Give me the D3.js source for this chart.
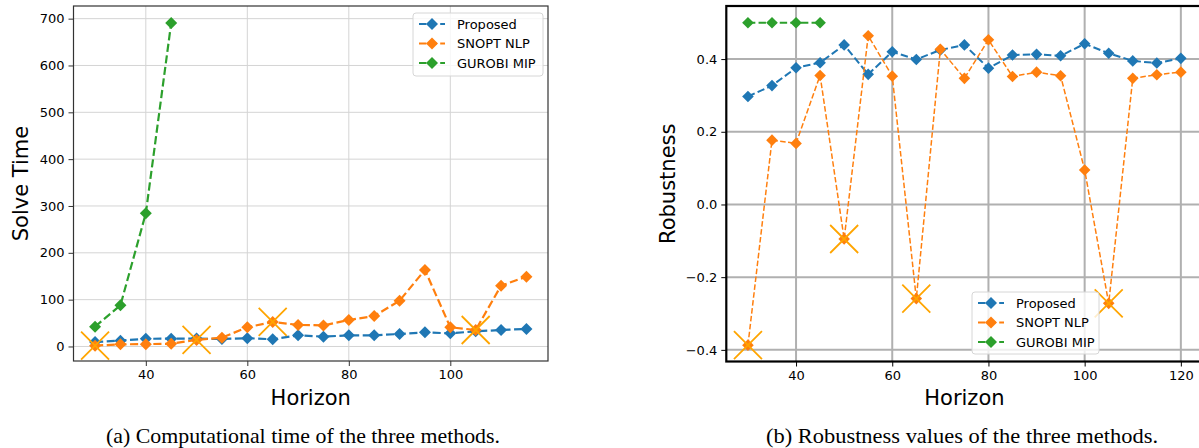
<!DOCTYPE html>
<html lang="en">
<head>
<meta charset="UTF-8">
<title>Solve time and robustness</title>
<script src="https://d3js.org/d3.v7.min.js"></script>
<style>
  body { margin: 0; background: #fff; }
  svg { display: block; }
  text { font-family: "DejaVu Sans", sans-serif; fill: #000; }
  .caption { font-family: "Liberation Serif", "Times New Roman", serif; }
</style>
</head>
<body>
<script>
// ---- data ----
var horizonsA = [30, 35, 40, 45, 50, 55, 60, 65, 70, 75, 80, 85, 90, 95, 100, 105, 110, 115];
var proposedTime = [9.6, 12.4, 16.5, 16.7, 17, 16, 17.8, 15.3, 23.8, 21, 23.8, 23.8, 26.7, 30.2, 28, 32.4, 35.2, 37.4];
var snoptTime = [1.8, 4.6, 5, 6, 14, 18.9, 41, 52.3, 46, 45, 56.6, 65, 97.8, 163.4, 41, 35.2, 129.8, 149];
var gurobiHorizons = [30, 35, 40, 45];
var gurobiTime = [42.3, 88, 284.4, 690.8];

var horizonsB = [30, 35, 40, 45, 50, 55, 60, 65, 70, 75, 80, 85, 90, 95, 100, 105, 110, 115, 120];
var proposedRob = [0.297, 0.327, 0.376, 0.390, 0.439, 0.358, 0.420, 0.399, 0.425, 0.439, 0.375, 0.411, 0.413, 0.409, 0.442, 0.416, 0.395, 0.389, 0.402];
var snoptRob = [-0.387, 0.177, 0.168, 0.355, -0.095, 0.464, 0.353, -0.259, 0.427, 0.347, 0.453, 0.352, 0.364, 0.354, 0.095, -0.272, 0.347, 0.357, 0.364];
var gurobiRob = [0.5, 0.5, 0.5, 0.5];

// horizons where SNOPT failed (big x markers)
var failHorizons = [30, 50, 65, 105];

var timeTicks = [0, 100, 200, 300, 400, 500, 600, 700];
var horizonTicksA = [40, 60, 80, 100];
var robTicks = [-0.4, -0.2, 0.0, 0.2, 0.4];
var horizonTicksB = [40, 60, 80, 100, 120];

var seriesNames = ['Proposed', 'SNOPT NLP', 'GUROBI MIP'];
var seriesColors = ['#1f77b4', '#ff7f0e', '#2ca02c'];
var failColor = '#ffa500';

var width = 1199, height = 448;

var svg = d3.select('body').append('svg')
    .attr('width', width)
    .attr('height', height);

function diamond(g, x, y, r, color) {
    g.append('path')
        .attr('d', 'M' + x + ',' + (y - r) + 'L' + (x + r) + ',' + y + 'L' + x + ',' + (y + r) + 'L' + (x - r) + ',' + y + 'Z')
        .attr('fill', color);
}

function cross(g, x, y, r, color) {
    g.append('path')
        .attr('d', 'M' + (x - r) + ',' + (y - r) + 'L' + (x + r) + ',' + (y + r) + 'M' + (x - r) + ',' + (y + r) + 'L' + (x + r) + ',' + (y - r))
        .attr('stroke', color)
        .attr('stroke-width', 1.8)
        .attr('fill', 'none');
}

// draws one panel; opts carries styling differences between the two plots
function panel(opts) {
    var x = d3.scaleLinear().domain(opts.xDomain).range(opts.xRange);
    var y = d3.scaleLinear().domain(opts.yDomain).range(opts.yRange);
    var top = opts.yRange[1], bottom = opts.yRange[0];
    var left = opts.xRange[0], right = opts.xRange[1];

    var g = svg.append('g');

    // grid
    g.append('g').selectAll('line').data(opts.xTicks).enter().append('line')
        .attr('x1', d => x(d)).attr('x2', d => x(d))
        .attr('y1', top).attr('y2', bottom)
        .attr('stroke', opts.gridColor).attr('stroke-width', opts.gridWidth);
    g.append('g').selectAll('line').data(opts.yTicks).enter().append('line')
        .attr('x1', left).attr('x2', right)
        .attr('y1', d => y(d)).attr('y2', d => y(d))
        .attr('stroke', opts.gridColor).attr('stroke-width', opts.gridWidth);

    var clipId = 'clip' + opts.id;
    svg.append('clipPath').attr('id', clipId).append('rect')
        .attr('x', left).attr('y', top).attr('width', right - left).attr('height', bottom - top);
    var plot = g.append('g').attr('clip-path', 'url(#' + clipId + ')');

    opts.series.forEach(function (s, i) {
        var pts = s.xs.map((h, k) => [h, s.ys[k]]);
        plot.append('path')
            .datum(pts)
            .attr('fill', 'none')
            .attr('stroke', seriesColors[i])
            .attr('stroke-width', s.lw)
            .attr('stroke-dasharray', (3.7 * s.lw) + ',' + (1.6 * s.lw))
            .attr('d', d3.line().x(d => x(d[0])).y(d => y(d[1])));
        pts.forEach(p => diamond(plot, x(p[0]), y(p[1]), opts.markR, seriesColors[i]));
    });

    // failure markers on SNOPT
    var sn = opts.series[1];
    failHorizons.forEach(function (h) {
        var k = sn.xs.indexOf(h);
        cross(plot, x(h), y(sn.ys[k]), 14, failColor);
    });

    // axes
    var xa = g.append('g').attr('transform', 'translate(0,' + bottom + ')')
        .call(d3.axisBottom(x).tickValues(opts.xTicks).tickSize(5).tickPadding(4).tickFormat(d3.format('d')));
    var ya = g.append('g').attr('transform', 'translate(' + left + ',0)')
        .call(d3.axisLeft(y).tickValues(opts.yTicks).tickSize(5).tickPadding(4).tickFormat(opts.yFormat));
    [xa, ya].forEach(function (a) {
        a.select('.domain').remove();
        a.selectAll('line').attr('stroke', opts.spineColor).attr('stroke-width', 1);
        a.selectAll('text').style('font-family', '"DejaVu Sans", sans-serif').style('font-size', '13px');
    });

    g.append('rect')
        .attr('x', left).attr('y', top).attr('width', right - left).attr('height', bottom - top)
        .attr('fill', 'none').attr('stroke', opts.spineColor).attr('stroke-width', opts.spineWidth);

    // axis labels
    g.append('text')
        .attr('x', (left + right) / 2).attr('y', 405)
        .attr('text-anchor', 'middle').style('font-size', '21px')
        .text('Horizon');
    g.append('text')
        .attr('transform', 'translate(' + opts.yLabelX + ',' + ((top + bottom) / 2) + ') rotate(-90)')
        .attr('text-anchor', 'middle').style('font-size', '21px')
        .text(opts.yLabel);

    // legend
    var L = opts.legend;
    g.append('rect')
        .attr('x', L.x).attr('y', L.y).attr('width', L.w).attr('height', L.h)
        .attr('rx', 3).attr('fill', '#fff').attr('fill-opacity', 0.8)
        .attr('stroke', '#d6d6d6').attr('stroke-width', 1);
    seriesNames.forEach(function (name, i) {
        var ly = L.y + 11 + i * 19.5;
        g.append('line')
            .attr('x1', L.x + 6).attr('x2', L.x + 32)
            .attr('y1', ly).attr('y2', ly)
            .attr('stroke', seriesColors[i]).attr('stroke-width', 2)
            .attr('stroke-dasharray', '7.4,3.2');
        diamond(g, L.x + 19, ly, 6, seriesColors[i]);
        g.append('text')
            .attr('x', L.x + 44).attr('y', ly)
            .attr('dy', '0.36em').style('font-size', '13px')
            .text(name);
    });

    svg.append('text').attr('class', 'caption')
        .attr('x', opts.captionX).attr('y', 443)
        .attr('text-anchor', 'middle').style('font-size', '21px')
        .attr('textLength', opts.captionW).attr('lengthAdjust', 'spacingAndGlyphs')
        .text(opts.caption);
}

panel({
    id: 'a',
    xDomain: [25.75, 119.25], xRange: [73.5, 548],
    yDomain: [-31, 727], yRange: [361, 6],
    xTicks: horizonTicksA, yTicks: timeTicks,
    yFormat: d3.format('d'),
    gridColor: '#d4d4d4', gridWidth: 1,
    spineColor: '#333', spineWidth: 1.2,
    markR: 6,
    series: [
        { xs: horizonsA, ys: proposedTime, lw: 2.2 },
        { xs: horizonsA, ys: snoptTime, lw: 2.2 },
        { xs: gurobiHorizons, ys: gurobiTime, lw: 2.2 }
    ],
    yLabel: 'Solve Time', yLabelX: 28,
    legend: { x: 413, y: 13, w: 130, h: 63 },
    caption: '(a) Computational time of the three methods.', captionX: 303, captionW: 394
});

panel({
    id: 'b',
    xDomain: [25.5, 124.5], xRange: [726.3, 1202.5],
    yDomain: [-0.432, 0.546], yRange: [361.5, 6],
    xTicks: horizonTicksB, yTicks: robTicks,
    yFormat: d3.format('.1f'),
    gridColor: '#b0b0b0', gridWidth: 2,
    spineColor: '#000', spineWidth: 2.2,
    markR: 5.8,
    series: [
        { xs: horizonsB, ys: proposedRob, lw: 2 },
        { xs: horizonsB, ys: snoptRob, lw: 1.5 },
        { xs: gurobiHorizons, ys: gurobiRob, lw: 2 }
    ],
    yLabel: 'Robustness', yLabelX: 675,
    legend: { x: 972, y: 292, w: 127, h: 62 },
    caption: '(b) Robustness values of the three methods.', captionX: 962, captionW: 392
});
</script>
</body>
</html>
